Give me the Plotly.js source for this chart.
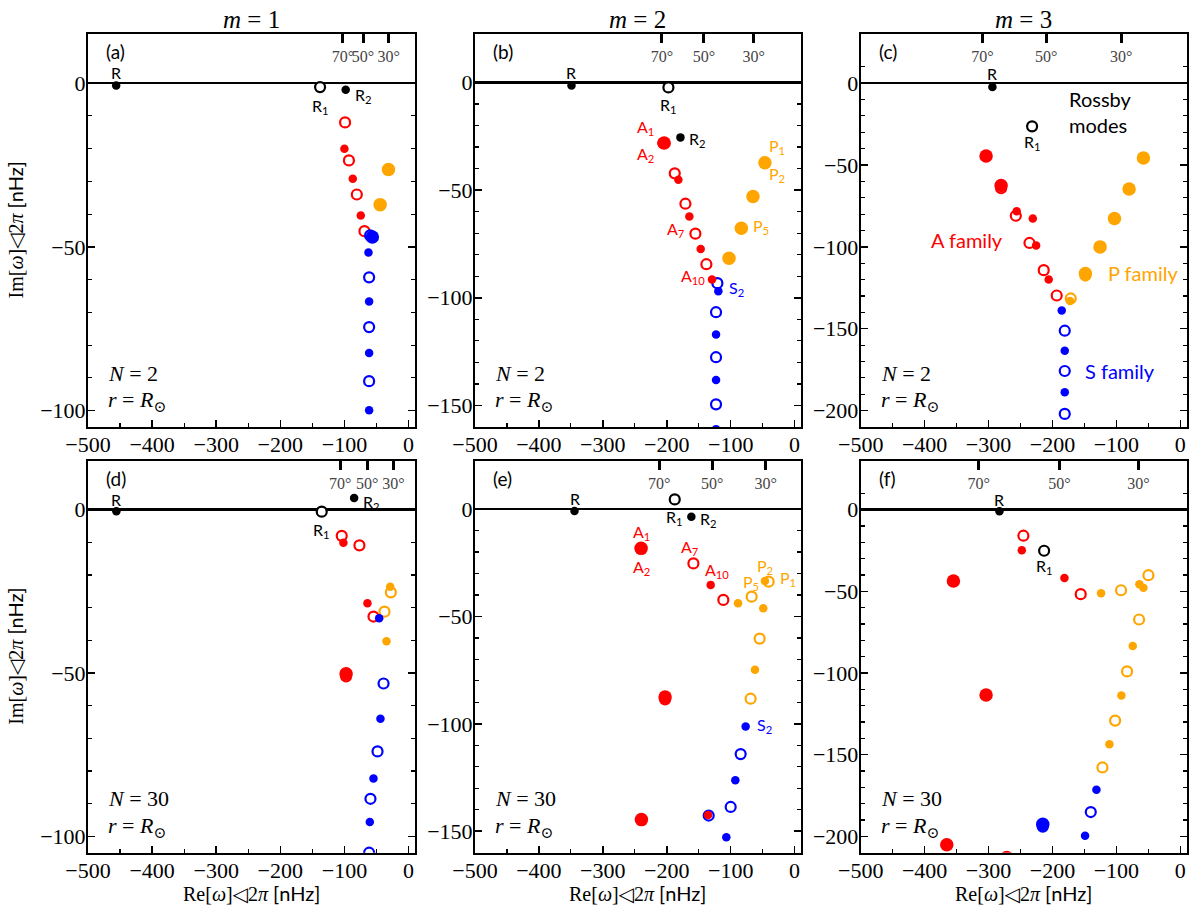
<!DOCTYPE html>
<html>
<head>
<meta charset="utf-8">
<script src="https://cdn.plot.ly/plotly-3.0.1.min.js"></script>
<style>
  body { margin: 0; background: #fff; }
  #chart { width: 1200px; height: 905px; }
</style>
</head>
<body>
<div id="chart"></div>
<script>
// mode families: R = Rossby, A, P, S ; kind: o = open, f = filled, L = large filled

// (a) m=1, N=2
var aX = [-456, -138, -98, -99, -100, -93, -87, -80.7, -74.5, -68.8, -31.3, -44.3, -60, -56.5, -62.5, -61.5, -61.5, -61.5, -61.5, -61.5, -61.5];
var aY = [-0.7, -1.2, -2, -12, -20, -23.6, -29.2, -34, -40.4, -45.2, -26.4, -37.1, -46.5, -47, -51.7, -59.3, -66.7, -74.5, -82.4, -91, -99.9];
var aFam = ['R','R','R','A','A','A','A','A','A','A','P','P','S','S','S','S','S','S','S','S','S'];
var aKind = ['f','o','f','o','f','o','f','o','f','o','L','L','o','L','f','o','f','o','f','o','f'];

// (b) m=2, N=2
var bX = [-349, -197.4, -178.6, -205.5, -204, -187.5, -181.8, -170.8, -164.6, -155.2, -146.9, -138, -129.2, -120.8, -119.3, -122.9, -122.9, -122.9, -122.9, -122.9, -122.9, -46.4, -65.1, -83.3, -102.6];
var bY = [-1.4, -2.3, -25.5, -28.1, -28.1, -42.2, -45.2, -56.3, -62.2, -70.2, -77.3, -84.4, -91.5, -93.2, -97, -106.7, -117.1, -127.6, -138.2, -149.5, -161, -37.3, -53, -67.7, -81.6];
var bFam = ['R','R','R','A','A','A','A','A','A','A','A','A','A','S','S','S','S','S','S','S','S','P','P','P','P'];
var bKind = ['f','o','f','o','L','o','f','o','f','o','f','o','f','o','f','o','f','o','f','o','f','L','L','L','L'];

// (c) m=3, N=2
var cX = [-294, -231.9, -303.9, -280.4, -280.4, -257.4, -256, -230.8, -236, -225.6, -213.7, -205.9, -193.4, -171.4, -172.5, -57.7, -80.1, -103, -125.5, -148.5, -148.5, -185.5, -180.8, -180.8, -180.8, -180.8, -180.8];
var cY = [-2.4, -26.4, -44.5, -64.2, -62.5, -81, -78.3, -82.7, -97.6, -99.2, -114.2, -119.9, -129.7, -131.5, -133, -45.7, -64.6, -82.7, -100, -117.5, -116.2, -138.8, -151.2, -163.4, -175.8, -188.8, -202];
var cFam = ['R','R','A','A','A','A','A','A','A','A','A','A','A','P','P','P','P','P','P','P','P','S','S','S','S','S','S'];
var cKind = ['f','o','L','o','L','o','f','f','o','f','o','f','o','o','f','L','L','L','L','o','L','f','o','f','o','f','o'];

// (d) m=1, N=30
var dX = [-455.7, -135.4, -84.9, -104.2, -101.6, -76.6, -64.1, -54.7, -45.8, -27.6, -28.6, -37.5, -34.4, -97.4, -97.4, -39, -43.8, -48.4, -54.7, -59.4, -60.4, -61.5];
var dY = [-0.5, -0.6, 3.6, -8, -10.1, -10.9, -28.6, -32.7, -33.2, -25.3, -23.6, -31.2, -40.3, -51, -50.2, -53.2, -64, -74, -82.3, -88.5, -95.6, -105];
var dFam = ['R','R','R','A','A','A','A','A','S','P','P','P','P','A','A','S','S','S','S','S','S','S'];
var dKind = ['f','o','f','o','f','o','f','o','f','o','f','o','f','o','L','o','f','o','f','o','f','o'];

// (e) m=2, N=30
var eX = [-344.3, -187.5, -161.5, -240.1, -158.3, -131.3, -111.5, -88.5, -67.2, -46.4, -40.6, -49, -54.7, -62, -68.8, -202.6, -202.6, -76.6, -84.4, -92.7, -100, -134.4, -135.4, -106.8, -239.6];
var eY = [-0.9, 4.5, -3.6, -18.3, -25.3, -35.3, -42.3, -43.9, -40.8, -33.5, -33.8, -46.2, -60.3, -74.8, -88.3, -88.6, -87.5, -101.2, -114.1, -126.3, -138.7, -142.7, -142.4, -152.8, -144.6];
var eFam = ['R','R','R','A','A','A','A','P','P','P','P','P','P','P','P','A','A','S','S','S','S','S','A','S','A'];
var eKind = ['f','o','f','L','o','f','o','f','o','f','o','f','o','f','o','o','L','f','o','f','o','o','f','f','L'];

// (f) m=3, N=30
var fX = [-283, -213.1, -245.5, -248, -181.3, -155.8, -124, -92.7, -64, -57.7, -49.9, -64.5, -74.4, -83.3, -92.2, -102, -110.9, -121.8, -131.2, -140.1, -149, -215.2, -215.2, -355, -303.9, -365.4, -271.6];
var fY = [-1, -25.1, -15.9, -24.8, -41.8, -51.7, -51.1, -49.3, -45.6, -47.7, -40.1, -67.2, -83.5, -99, -113.8, -129.1, -143.6, -157.8, -171.5, -185.1, -199.6, -194, -192.6, -43.6, -113.4, -205.1, -213];
var fFam = ['R','R','A','A','A','A','P','P','P','P','P','P','P','P','P','P','P','P','S','S','S','S','S','A','A','A','A'];
var fKind = ['f','o','o','f','f','o','f','o','f','f','o','o','f','o','f','o','f','o','f','o','f','o','L','L','L','L','L'];

// latitude markers on the top edge (Re[omega] values)
var latText = ['70°', '50°', '30°'];
var aLat = [-102.5, -71, -31];
var bLat = [-207.6, -141.9, -64];
var cLat = [-309.7, -210, -92.6];
var dLat = [-106.7, -64.5, -23.4];
var eLat = [-212, -128.8, -45.4];
var fLat = [-315.3, -189, -65.6];

// mode labels: text, x, y, family
var aLab = [['R', -456, 3.2, 'R'], ['R<sub>1</sub>', -138, -7, 'R'], ['R<sub>2</sub>', -71, -3.8, 'R']];
var bLab = [['R', -349, 4.8, 'R'], ['R<sub>1</sub>', -197.4, -10.5, 'R'], ['R<sub>2</sub>', -152, -26.6, 'R'],
            ['A<sub>1</sub>', -234, -20.9, 'A'], ['A<sub>2</sub>', -234, -33.5, 'A'], ['A<sub>7</sub>', -185, -68.5, 'A'],
            ['A<sub>10</sub>', -159, -90, 'A'], ['S<sub>2</sub>', -91, -95.6, 'S'], ['P<sub>1</sub>', -27, -29.7, 'P'],
            ['P<sub>2</sub>', -27, -42.6, 'P'], ['P<sub>5</sub>', -53, -66.7, 'P']];
var cLab = [['R', -294, 6, 'R'], ['R<sub>1</sub>', -232, -36, 'R'], ['A family', -333, -95.5, 'A'],
            ['P family', -59, -116, 'P'], ['S family', -95, -175.8, 'S']];
var dLab = [['R', -455.7, 3, 'R'], ['R<sub>1</sub>', -135.4, -6.3, 'R'], ['R<sub>2</sub>', -58, 2.3, 'R']];
var eLab = [['R', -344.3, 4.8, 'R'], ['R<sub>1</sub>', -187.5, -3.8, 'R'], ['R<sub>2</sub>', -134, -4.8, 'R'],
            ['A<sub>1</sub>', -240.1, -11, 'A'], ['A<sub>2</sub>', -240.1, -27, 'A'], ['A<sub>7</sub>', -163, -18, 'A'],
            ['A<sub>10</sub>', -121, -28.6, 'A'], ['P<sub>2</sub>', -46.4, -26.7, 'P'], ['P<sub>1</sub>', -10, -32.4, 'P'],
            ['P<sub>5</sub>', -67.7, -34, 'P'], ['S<sub>2</sub>', -46.5, -100.6, 'S']];
var fLab = [['R', -283, 6.3, 'R'], ['R<sub>1</sub>', -213, -35, 'R']];

var colTitles = ['<i>m</i> = 1', '<i>m</i> = 2', '<i>m</i> = 3'];
var panelNames = ['(a)', '(b)', '(c)', '(d)', '(e)', '(f)'];
var nValues = ['2', '2', '2', '30', '30', '30'];

var famColor = { R: '#000000', A: '#ff0000', P: '#ffa500', S: '#0000ff' };
var SERIF = 'Liberation Serif, DejaVu Serif, serif';
var SANS = 'Lato, DejaVu Sans, sans-serif';

var panels = [
  { x: aX, y: aY, fam: aFam, kind: aKind, lat: aLat, lab: aLab, yr: [-105, 15] },
  { x: bX, y: bY, fam: bFam, kind: bKind, lat: bLat, lab: bLab, yr: [-160, 22.5] },
  { x: cX, y: cY, fam: cFam, kind: cKind, lat: cLat, lab: cLab, yr: [-210, 30] },
  { x: dX, y: dY, fam: dFam, kind: dKind, lat: dLat, lab: dLab, yr: [-105, 15] },
  { x: eX, y: eY, fam: eFam, kind: eKind, lat: eLat, lab: eLab, yr: [-160, 22.5] },
  { x: fX, y: fY, fam: fFam, kind: fKind, lat: fLat, lab: fLab, yr: [-210, 30] }
];

var colDom = [[0.0733, 0.3458], [0.3958, 0.6675], [0.7173, 0.9889]];
var rowDom = [[0.5282, 0.9624], [0.0578, 0.4909]];

var data = [];
var layout = {
  width: 1200, height: 905,
  margin: { l: 0, r: 0, t: 0, b: 0 },
  showlegend: false,
  paper_bgcolor: 'white', plot_bgcolor: 'white',
  font: { family: SERIF, color: 'black', size: 20 },
  annotations: []
};

function note(o) {
  o.showarrow = false;
  if (!o.xanchor) o.xanchor = 'center';
  if (!o.yanchor) o.yanchor = 'middle';
  layout.annotations.push(o);
}

panels.forEach(function (p, i) {
  var n = i + 1;
  var sx = n === 1 ? '' : String(n);
  var xa = 'x' + sx, ya = 'y' + sx;
  var topId = String(n + 6);

  // open first, then large filled, then small filled on top
  ['o', 'L', 'f'].forEach(function (k) {
    ['R', 'A', 'P', 'S'].forEach(function (fm) {
      var xs = [], ys = [];
      for (var j = 0; j < p.x.length; j++) {
        if (p.kind[j] === k && p.fam[j] === fm) { xs.push(p.x[j]); ys.push(p.y[j]); }
      }
      if (!xs.length) return;
      var mk;
      if (k === 'o') mk = { symbol: 'circle', size: 10, color: 'white', line: { color: famColor[fm], width: 2.2 } };
      else if (k === 'L') mk = { symbol: 'circle', size: 13.5, color: famColor[fm], line: { width: 0 } };
      else mk = { symbol: 'circle', size: 8.5, color: famColor[fm], line: { width: 0 } };
      data.push({ type: 'scatter', mode: 'markers', x: xs, y: ys, xaxis: xa, yaxis: ya, marker: mk, hoverinfo: 'x+y' });
    });
  });
  // empty trace so the top latitude axis is drawn
  data.push({ type: 'scatter', mode: 'markers', x: [], y: [], xaxis: 'x' + topId, yaxis: ya });

  var col = i % 3, row = Math.floor(i / 3);
  layout['xaxis' + sx] = {
    domain: colDom[col], anchor: ya, range: [-500, 10], autorange: false,
    tickmode: 'linear', tick0: 0, dtick: 100, tickangle: 0,
    ticks: 'inside', ticklen: 7, tickwidth: 1.5, tickcolor: 'black',
    minor: { dtick: 50, ticks: 'inside', ticklen: 4, tickwidth: 1.2, tickcolor: 'black' },
    showline: true, linewidth: 2, linecolor: 'black', mirror: true,
    showgrid: false, zeroline: false, automargin: false,
    ticklabelstandoff: -3,
    tickfont: { family: SERIF, size: 22 }
  };
  layout['yaxis' + sx] = {
    domain: rowDom[row], anchor: xa, range: p.yr, autorange: false,
    tickmode: 'linear', tick0: 0, dtick: 50,
    ticks: 'inside', ticklen: 7, tickwidth: 1.5, tickcolor: 'black',
    minor: { dtick: 10, ticks: 'inside', ticklen: 4, tickwidth: 1.2, tickcolor: 'black' },
    showline: true, linewidth: 2, linecolor: 'black', mirror: 'ticks',
    showgrid: false, zeroline: true, zerolinecolor: 'black', zerolinewidth: 2.5, automargin: false,
    ticklabelstandoff: -4,
    tickfont: { family: SERIF, size: 22 }
  };
  layout['xaxis' + topId] = {
    overlaying: xa, side: 'top', anchor: ya, range: [-500, 10], autorange: false,
    tickmode: 'array', tickvals: p.lat, ticktext: latText, tickangle: 0,
    ticks: 'inside', ticklen: 9, tickwidth: 3, tickcolor: 'black',
    ticklabelposition: 'inside', ticklabelstandoff: 8,
    showline: false, showgrid: false, zeroline: false, automargin: false,
    tickfont: { family: SERIF, size: 16 }
  };

  p.lab.forEach(function (l) {
    var big = l[0].indexOf('family') >= 0;
    note({
      xref: xa, yref: ya, x: l[1], y: l[2], text: l[0],
      font: { family: SANS, size: big ? 20 : 16, color: famColor[l[3]] }
    });
  });

  note({
    xref: xa + ' domain', yref: ya + ' domain', x: 0.05, y: 0.955, xanchor: 'left',
    text: panelNames[i], font: { family: SANS, size: 19 }
  });
  note({
    xref: xa + ' domain', yref: ya + ' domain', x: 0.055, y: 0.137, xanchor: 'left',
    text: '<i>N</i> = ' + nValues[i], font: { family: SERIF, size: 22 }
  });
  note({
    xref: xa + ' domain', yref: ya + ' domain', x: 0.055, y: 0.066, xanchor: 'left',
    text: '<i>r</i> = <i>R</i><sub>⊙</sub>', font: { family: SERIF, size: 22 }
  });
});

// "Rossby modes" note in panel (c)
note({
  xref: 'x3', yref: 'y3', x: -178, y: -17.5, xanchor: 'left', align: 'left',
  text: 'Rossby<br>modes', font: { family: SANS, size: 20, color: 'black' }
});

colTitles.forEach(function (t, c) {
  note({
    xref: 'paper', yref: 'paper', x: (colDom[c][0] + colDom[c][1]) / 2, y: 1 - 20 / 905,
    text: t, font: { family: SERIF, size: 25 }
  });
});

var yTitle = 'Im[<i>ω</i>]◁2<i>π</i> <span style="font-family:Lato, DejaVu Sans, sans-serif">[nHz]</span>';
var xTitle = 'Re[<i>ω</i>]◁2<i>π</i> <span style="font-family:Lato, DejaVu Sans, sans-serif">[nHz]</span>';
[0, 1].forEach(function (r) {
  note({
    xref: 'paper', yref: 'paper', x: 15 / 1200, y: (rowDom[r][0] + rowDom[r][1]) / 2,
    text: yTitle, textangle: -90, font: { family: SERIF, size: 20 }
  });
});
[0, 1, 2].forEach(function (c) {
  note({
    xref: 'paper', yref: 'paper', x: (colDom[c][0] + colDom[c][1]) / 2, y: 1 - 893 / 905,
    text: xTitle, font: { family: SERIF, size: 20 }
  });
});

Plotly.newPlot('chart', data, layout, { displayModeBar: false, staticPlot: true });
</script>
</body>
</html>
